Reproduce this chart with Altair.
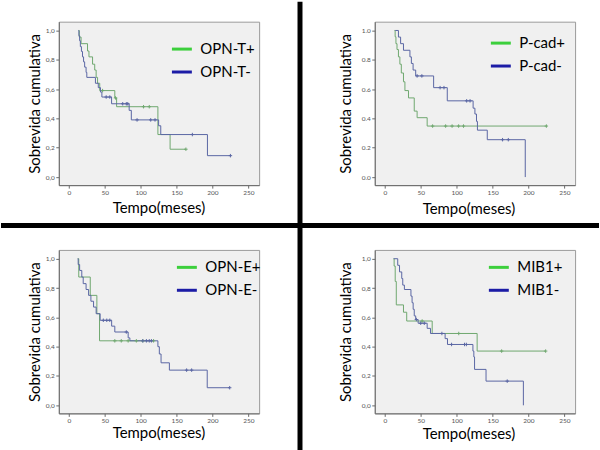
import altair as alt
import pandas as pd

# ---------------- data ----------------
# Panel 1: OPN-T
p1_pos_t = [13.5, 14.5, 17, 26, 28, 33, 36, 38, 40, 43, 64, 66.5, 124, 141, 163]
p1_pos_s = [1.0, 0.955, 0.91, 0.86, 0.82, 0.77, 0.73, 0.68, 0.64, 0.59, 0.54, 0.48, 0.29, 0.19, 0.19]
p1_pos_ct = [47, 65, 104, 112, 163]
p1_pos_cs = [0.59, 0.54, 0.48, 0.48, 0.19]
p1_neg_t = [13.5, 14, 15, 16, 17.5, 19, 20.5, 22, 24, 25, 37, 41, 44, 46, 59.5, 84, 87, 125, 128, 193, 225]
p1_neg_s = [1.0, 0.964, 0.93, 0.89, 0.857, 0.82, 0.786, 0.75, 0.714, 0.68, 0.64, 0.61, 0.58, 0.546, 0.50, 0.455, 0.39, 0.35, 0.29, 0.146, 0.146]
p1_neg_ct = [52, 57, 75, 80, 82, 95, 114, 120, 172, 225]
p1_neg_cs = [0.546, 0.546, 0.50, 0.50, 0.50, 0.39, 0.39, 0.39, 0.29, 0.146]

# Panel 2: P-cad
p2_pos_t = [13.5, 14.4, 15.5, 17, 19, 21, 23, 26, 28, 33, 41, 45, 59, 225]
p2_pos_s = [1.0, 0.957, 0.91, 0.87, 0.82, 0.77, 0.71, 0.65, 0.59, 0.54, 0.45, 0.405, 0.348, 0.348]
p2_pos_ct = [66.6, 84.7, 93.7, 102.8, 109.6, 225]
p2_pos_cs = [0.348, 0.348, 0.348, 0.348, 0.348, 0.348]
p2_neg_t = [14.5, 19, 22, 26, 35, 37, 39.4, 43, 68, 87, 123, 125.5, 127.7, 129, 142.7, 195.6]
p2_neg_s = [1.0, 0.955, 0.91, 0.865, 0.82, 0.775, 0.73, 0.69, 0.61, 0.52, 0.47, 0.43, 0.38, 0.32, 0.255, 0.0]
p2_neg_ct = [45, 51.6, 77, 82.4, 114, 118.7, 164, 172]
p2_neg_cs = [0.69, 0.69, 0.61, 0.61, 0.52, 0.52, 0.255, 0.255]

# Panel 3: OPN-E
p3_pos_t = [12.4, 13.8, 29.8, 39, 42.7, 118]
p3_pos_s = [1.0, 0.875, 0.75, 0.625, 0.44, 0.44]
p3_pos_ct = [64, 73, 82.6, 94, 103, 118]
p3_pos_cs = [0.44, 0.44, 0.44, 0.44, 0.44, 0.44]
p3_neg_t = [12.4, 13, 15, 18, 20, 24, 27.5, 30.7, 34.4, 38, 43.6, 59.6, 64, 82.6, 85, 124, 126, 128.4, 140, 192.7, 224]
p3_neg_s = [1.0, 0.96, 0.92, 0.875, 0.83, 0.79, 0.75, 0.71, 0.67, 0.625, 0.58, 0.54, 0.50, 0.46, 0.44, 0.40, 0.35, 0.29, 0.24, 0.12, 0.12]
p3_neg_ct = [48, 52.8, 57, 80, 103, 108, 112, 115, 164, 171, 224]
p3_neg_cs = [0.58, 0.58, 0.58, 0.50, 0.44, 0.44, 0.44, 0.44, 0.24, 0.24, 0.12]

# Panel 4: MIB1
p4_pos_t = [12.3, 13, 14.5, 16, 26, 30.5, 66, 128.6, 224]
p4_pos_s = [1.0, 0.95, 0.845, 0.685, 0.635, 0.575, 0.49, 0.37, 0.37]
p4_pos_ct = [52, 103, 162.7, 224]
p4_pos_cs = [0.575, 0.49, 0.37, 0.37]
p4_neg_t = [12.3, 18, 20.5, 23.6, 25, 27.3, 36.4, 38, 39.5, 41, 43, 46.4, 59, 63.6, 84, 87.3, 122.7, 124, 125, 141, 193]
p4_neg_s = [1.0, 0.955, 0.91, 0.865, 0.82, 0.79, 0.745, 0.70, 0.655, 0.61, 0.585, 0.56, 0.525, 0.49, 0.455, 0.415, 0.37, 0.33, 0.245, 0.165, 0.0]
p4_neg_ct = [44, 50, 55, 79.5, 93, 111, 113.6, 170.5]
p4_neg_cs = [0.585, 0.56, 0.56, 0.49, 0.415, 0.415, 0.415, 0.165]

x_ticks = [0, 50, 100, 150, 200, 250]
y_ticks = [0.0, 0.2, 0.4, 0.6, 0.8, 1.0]

# ---------------- styling ----------------
GREEN_LINE = "#6fa86f"
BLUE_LINE = "#5a66a4"
GREEN_LEG = "#3ccf3c"
BLUE_LEG = "#1c1ca6"
W, H = 201, 164
FONT = "Lato"


def panel(names, pos, neg, pos_c, neg_c, comma, leg_xy, ytitle_x, xtitle_xy, dividers=False):
    curves = pd.concat([
        pd.DataFrame({"t": pos[0], "s": pos[1], "g": names[0]}),
        pd.DataFrame({"t": neg[0], "s": neg[1], "g": names[1]}),
    ])
    cens = pd.concat([
        pd.DataFrame({"t": pos_c[0], "s": pos_c[1], "g": names[0]}),
        pd.DataFrame({"t": neg_c[0], "s": neg_c[1], "g": names[1]}),
    ])
    fmt = "replace(format(datum.value, '.1f'), '.', ',')" if comma else "format(datum.value, '.1f')"
    x = alt.X("t:Q", scale=alt.Scale(domain=[-14, 265], nice=False, zero=False),
              axis=alt.Axis(values=x_ticks, format="d", title="Tempo(meses)",
                            titleX=xtitle_xy[0], titleY=xtitle_xy[1],
                            titleBaseline="alphabetic", titleAlign="center"))
    y = alt.Y("s:Q", scale=alt.Scale(domain=[-0.055, 1.06], nice=False, zero=False),
              axis=alt.Axis(values=y_ticks, labelExpr=fmt, title="Sobrevida cumulativa",
                            titleX=ytitle_x, titleY=H / 2, titleAngle=-90,
                            titleBaseline="alphabetic", titleAlign="center"))
    stroke = alt.Stroke("g:N", scale=alt.Scale(domain=names, range=[GREEN_LINE, BLUE_LINE]), legend=None)

    lines = alt.Chart(curves).mark_line(interpolate="step-after", strokeWidth=1).encode(
        x=x, y=y, stroke=stroke)
    marks = alt.Chart(cens).mark_point(shape="M-1,0H1M0,-1V1", size=12, filled=False,
                                       strokeWidth=1, opacity=1).encode(x=x, y=y, stroke=stroke)
    leg = alt.Chart(curves).mark_line(opacity=0).encode(
        x=x, y=y,
        color=alt.Color("g:N", scale=alt.Scale(domain=names, range=[GREEN_LEG, BLUE_LEG]),
                        legend=alt.Legend(orient="none", legendX=leg_xy[0], legendY=leg_xy[1],
                                          title=None, symbolType="stroke", symbolSize=400,
                                          symbolStrokeWidth=3, symbolOpacity=1,
                                          labelFont=FONT, labelFontSize=15, labelColor="black",
                                          labelFontWeight="normal",
                                          labelOffset=7, rowPadding=3, padding=0)))
    layers = [lines, marks, leg]
    if dividers:
        dv = pd.DataFrame({"k": [0]})
        vbar = alt.Chart(dv).mark_rect(color="black").encode(
            x=alt.value(239.5), x2=alt.value(244.5), y=alt.value(-20), y2=alt.value(430))
        hbar = alt.Chart(dv).mark_rect(color="black").encode(
            x=alt.value(-58), x2=alt.value(542), y=alt.value(202), y2=alt.value(207))
        layers = [vbar, hbar] + layers
    return alt.layer(*layers).properties(width=W, height=H).resolve_scale(
        color="independent", stroke="independent")


c1 = panel(["OPN-T+", "OPN-T-"], (p1_pos_t, p1_pos_s), (p1_neg_t, p1_neg_s),
           (p1_pos_ct, p1_pos_cs), (p1_neg_ct, p1_neg_cs), True, (112, 16), -19, (100, 27), dividers=True)
c2 = panel(["P-cad+", "P-cad-"], (p2_pos_t, p2_pos_s), (p2_neg_t, p2_neg_s),
           (p2_pos_ct, p2_pos_cs), (p2_neg_ct, p2_neg_cs), False, (115, 10), -24, (94, 28))
c3 = panel(["OPN-E+", "OPN-E-"], (p3_pos_t, p3_pos_s), (p3_neg_t, p3_neg_s),
           (p3_pos_ct, p3_pos_cs), (p3_neg_ct, p3_neg_cs), True, (117, 6), -19, (100, 24))
c4 = panel(["MIB1+", "MIB1-"], (p4_pos_t, p4_pos_s), (p4_neg_t, p4_neg_s),
           (p4_pos_ct, p4_pos_cs), (p4_neg_ct, p4_neg_cs), True, (113, 6), -24, (94, 25))

chart = alt.concat(c1, c2, c3, c4, columns=2, spacing={"row": 65, "column": 116},
                   bounds="flush").resolve_scale(
    x="independent", y="independent", color="independent", stroke="independent"
).resolve_legend(color="independent", stroke="independent").properties(
    padding=0, background="white"
).configure_view(
    fill="#f0f0f0", stroke="#9a9a9a", strokeWidth=1
).configure_axis(
    grid=False, domainColor="#6a6a6a", tickColor="#6a6a6a", tickSize=3,
    labelColor="#555555", labelFont=FONT, labelFontSize=6.5, labelPadding=1.5,
    titleFont=FONT, titleFontSize=15, titleFontWeight="normal", titleColor="black"
)

chart.save("out.html", embed_options={"renderer": "svg", "actions": False})
